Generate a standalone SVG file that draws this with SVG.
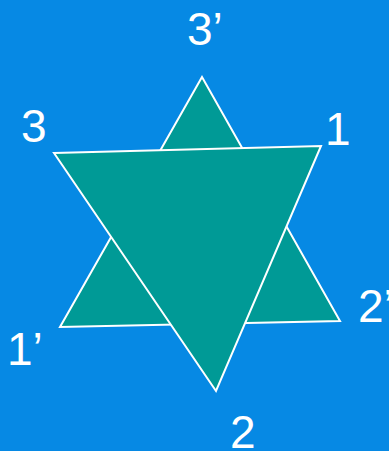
<svg xmlns="http://www.w3.org/2000/svg" width="389" height="451" viewBox="0 0 389 451">
<style>
.tri{fill:#009a96;stroke:#ffffff;stroke-width:2;stroke-linejoin:miter}
.lbl{font-family:"Liberation Sans",Arial,sans-serif;font-size:46px;fill:#ffffff}
</style>
<rect width="389" height="451" fill="#0689e4"/>
<g id="triangle-up">
<polygon class="tri" points="202,77 60,327 340,321"/>
</g>
<g id="triangle-down">
<polygon class="tri" points="54,153 321,146 216,391"/>
</g>
<g id="labels">
<text class="lbl" x="187" y="45">3’</text>
<text class="lbl" x="21" y="142">3</text>
<text class="lbl" x="325" y="145">1</text>
<text class="lbl" x="358" y="322">2’</text>
<text class="lbl" x="7" y="365">1’</text>
<text class="lbl" x="230" y="448">2</text>
</g>
</svg>
